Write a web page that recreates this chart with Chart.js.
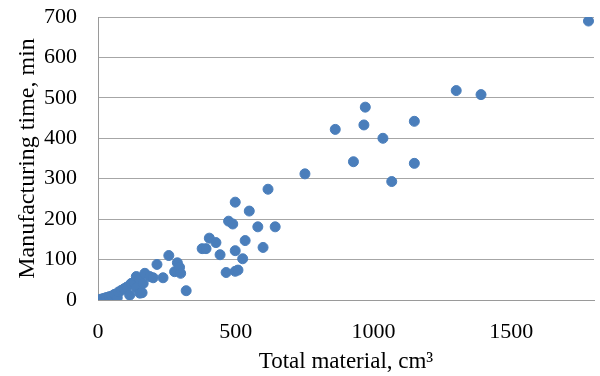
<!DOCTYPE html>
<html>
<head>
<meta charset="utf-8">
<script src="https://cdn.jsdelivr.net/npm/chart.js@4/dist/chart.umd.min.js"></script>
<style>
  html, body { margin: 0; padding: 0; background: #fff; }
  #wrap { width: 600px; height: 376px; }
</style>
</head>
<body>
<div id="wrap"><canvas id="scatterChart" width="600" height="376"></canvas></div>
<script>
// Total material (cm3) vs manufacturing time (min)
const materialVolume = [
    0, 10, 20, 30, 40, 50, 60, 70, 75, 85, 95, 105, 115, 120, 121, 130, 139, 140, 150, 152,
    160, 164, 170, 188, 200, 214, 236, 257, 278, 288, 296, 300, 320,
    378, 392, 404, 428, 443, 465, 474, 489, 498, 498, 498, 508, 525, 534, 549, 580, 599,
    617, 643, 751, 861, 927, 965, 970, 1034, 1066, 1148, 1148, 1300, 1390, 1780
];
const manufacturingTime = [
    0, 2, 4, 6, 8, 10, 14, 6, 20, 24, 28, 32, 12, 40, 41, 44, 58, 30, 52, 17,
    18, 41, 66, 58, 55, 88, 55, 110, 70, 92, 81, 66, 23,
    127, 127, 153, 142, 112, 68, 195, 188, 242, 122, 71, 74, 102, 147, 220, 181, 130,
    274, 181, 312, 422, 342, 433, 477, 400, 293, 442, 338, 518, 508, 690
];
const xTickValues = [0, 500, 1000, 1500];
const yTickValues = [0, 100, 200, 300, 400, 500, 600, 700];

const points = materialVolume.map((v, i) => ({ x: v, y: manufacturingTime[i] }));
const serif = "'Liberation Serif', 'Times New Roman', serif";

new Chart(document.getElementById('scatterChart').getContext('2d'), {
    type: 'scatter',
    data: {
        datasets: [{
            data: points,
            backgroundColor: '#4a7ebb',
            borderColor: '#4a7ebb',
            pointRadius: 5,
            pointHoverRadius: 5
        }]
    },
    options: {
        responsive: false,
        animation: false,
        layout: { padding: { top: 17, right: 2, left: 0, bottom: 0 } },
        plugins: {
            legend: { display: false },
            tooltip: { enabled: false }
        },
        scales: {
            x: {
                type: 'linear',
                min: 0,
                max: 1800,
                afterBuildTicks: scale => {
                    scale.ticks = xTickValues.map(v => ({ value: v }));
                },
                afterFit: scale => {
                    scale.height = 76;
                    scale.paddingLeft = 0;
                    scale.paddingRight = 0;
                },
                grid: { display: false, drawTicks: false },
                border: { display: true, color: '#9a9a9a', width: 1 },
                ticks: {
                    color: '#000',
                    padding: 19,
                    font: { family: serif, size: 22 },
                    callback: v => String(v)
                },
                title: {
                    display: true,
                    text: 'Total material, cm³',
                    color: '#000',
                    padding: { top: 5, bottom: 0 },
                    font: { family: serif, size: 23 }
                }
            },
            y: {
                type: 'linear',
                min: 0,
                max: 700,
                afterBuildTicks: scale => {
                    scale.ticks = yTickValues.map(v => ({ value: v }));
                },
                afterFit: scale => {
                    scale.width = 98;
                    scale.paddingTop = 0;
                    scale.paddingBottom = 0;
                },
                grid: { color: '#a6a6a6', lineWidth: 1, drawTicks: false },
                border: { display: true, color: '#9a9a9a', width: 1 },
                ticks: {
                    color: '#000',
                    padding: 21,
                    font: { family: serif, size: 22 },
                    callback: v => String(v)
                },
                title: {
                    display: true,
                    text: 'Manufacturing time, min',
                    color: '#000',
                    padding: { top: 13, bottom: 0 },
                    font: { family: serif, size: 24 }
                }
            }
        }
    }
});
</script>
</body>
</html>
